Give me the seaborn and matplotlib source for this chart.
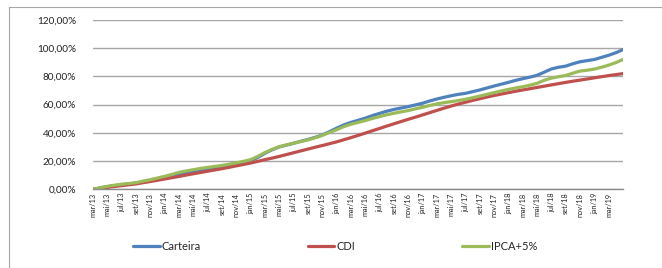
import numpy as np
import pandas as pd
import matplotlib
matplotlib.use("Agg")
import matplotlib.pyplot as plt
from matplotlib.lines import Line2D
from matplotlib.ticker import FuncFormatter
import seaborn as sns

# monthly points, mar/13 .. mai/19 (accumulated return, %)
meses = ["jan", "fev", "mar", "abr", "mai", "jun", "jul", "ago", "set", "out", "nov", "dez"]
periodos = [f"{meses[(2 + i) % 12]}/{13 + (2 + i) // 12}" for i in range(75)]

carteira = [0.0, 1.0, 1.9, 2.6, 3.2, 3.8, 4.4, 5.2, 6.0, 7.0, 8.0, 9.2, 10.4, 11.5, 12.5,
            13.4, 14.3, 15.2, 16.0, 17.0, 18.0, 19.0, 20.3, 22.5, 25.5, 28.0, 30.0, 31.3,
            32.6, 34.0, 35.3, 36.8, 38.5, 40.8, 43.3, 45.6, 47.4, 48.9, 50.4, 52.2, 53.8,
            55.3, 56.6, 57.6, 58.6, 59.8, 61.0, 62.6, 64.0, 65.2, 66.3, 67.3, 68.0, 69.2,
            70.4, 71.8, 73.2, 74.5, 75.8, 77.2, 78.4, 79.5, 80.8, 83.0, 85.3, 86.5, 87.3,
            89.0, 90.4, 91.2, 92.0, 93.5, 95.0, 96.8, 99.0]
cdi = [0.0, 0.6, 1.3, 2.0, 2.6, 3.2, 3.8, 4.7, 5.5, 6.4, 7.3, 8.2, 9.1, 10.1, 11.0,
       11.9, 12.8, 13.7, 14.6, 15.6, 16.6, 17.6, 18.6, 19.8, 21.0, 22.1, 23.3, 24.6,
       25.9, 27.2, 28.5, 29.8, 31.0, 32.3, 33.6, 35.1, 36.6, 38.2, 39.8, 41.5, 43.1,
       44.8, 46.4, 48.0, 49.6, 51.1, 52.7, 54.3, 55.9, 57.5, 59.0, 60.4, 61.7, 63.0,
       64.2, 65.4, 66.5, 67.5, 68.5, 69.5, 70.4, 71.3, 72.2, 73.1, 74.0, 74.9, 75.8,
       76.6, 77.4, 78.2, 79.0, 79.8, 80.6, 81.3, 82.0]
ipca5 = [0.0, 1.1, 2.1, 2.9, 3.6, 4.1, 4.7, 5.8, 6.8, 8.0, 9.2, 10.5, 12.0, 13.0, 13.9,
         14.8, 15.5, 16.2, 16.9, 17.8, 18.8, 19.8, 21.0, 23.3, 26.0, 28.3, 30.2, 31.5,
         32.7, 33.8, 35.0, 36.5, 38.2, 40.2, 42.2, 44.4, 46.1, 47.4, 48.7, 50.2, 51.5,
         52.8, 53.9, 54.9, 55.8, 57.0, 58.1, 59.4, 60.5, 61.4, 62.1, 62.9, 63.8, 64.9,
         66.1, 67.3, 68.5, 69.7, 70.8, 71.8, 72.7, 73.8, 75.1, 77.3, 78.8, 79.8, 80.7,
         82.3, 83.8, 84.4, 85.2, 86.5, 88.0, 89.8, 92.0]

series = ["Carteira", "CDI", "IPCA+5%"]
cores = ["#4F81BD", "#C0504D", "#9BBB59"]

df = pd.DataFrame({"idx": np.arange(len(periodos)), "Carteira": carteira,
                   "CDI": cdi, "IPCA+5%": ipca5})
df_long = df.melt(id_vars="idx", var_name="serie", value_name="valor")

sns.set_theme(style="white")
plt.rcParams["font.family"] = ["Lato", "DejaVu Sans"]

W, H = 662, 268
fig = plt.figure(figsize=(W / 100, H / 100), dpi=100)
ax = fig.add_axes([93 / W, (H - 189.3) / H, (623 - 93) / W, (189.3 - 20) / H])

sns.lineplot(data=df_long, x="idx", y="valor", hue="serie", hue_order=series,
             palette=cores, linewidth=2.3, ax=ax, legend=False)

ax.set_xlim(0, len(periodos) - 1)
ax.set_ylim(0, 120)
ax.set_yticks(range(0, 121, 20))
ax.yaxis.set_major_formatter(FuncFormatter(lambda v, p: f"{v:.2f}%".replace(".", ",")))
ax.yaxis.grid(True, color="#A6A6A6", linewidth=1)
ax.set_axisbelow(True)

tick_pos = list(range(0, 73, 2))
ax.set_xticks(tick_pos)
ax.set_xticklabels([periodos[i] for i in tick_pos], rotation=90, fontsize=5.3)
ax.tick_params(axis="x", length=0, pad=2.5, colors="#222222")
ax.tick_params(axis="y", length=0, pad=12, labelsize=7.2, colors="#222222")
ax.set_xlabel("")
ax.set_ylabel("")
for s in ["top", "left", "right"]:
    ax.spines[s].set_visible(False)
ax.spines["bottom"].set_color("#8C8C8C")
ax.spines["bottom"].set_linewidth(1)

handles = [Line2D([], [], color=c, linewidth=2.3) for c in cores]
fig.legend(handles, series, loc="center left", bbox_to_anchor=(133 / W, 22 / H),
           ncol=3, frameon=False, fontsize=8, handlelength=2.4, handletextpad=0.2,
           columnspacing=9.6, borderpad=0, borderaxespad=0)

# outer chart border (left and top edges visible)
fig.add_artist(Line2D([9 / W, 9 / W], [0, (H - 7) / H], color="#A6A6A6", linewidth=0.8))
fig.add_artist(Line2D([9 / W, 1], [(H - 7) / H, (H - 7) / H], color="#A6A6A6", linewidth=0.8))

fig.savefig("out.png", dpi=100)
